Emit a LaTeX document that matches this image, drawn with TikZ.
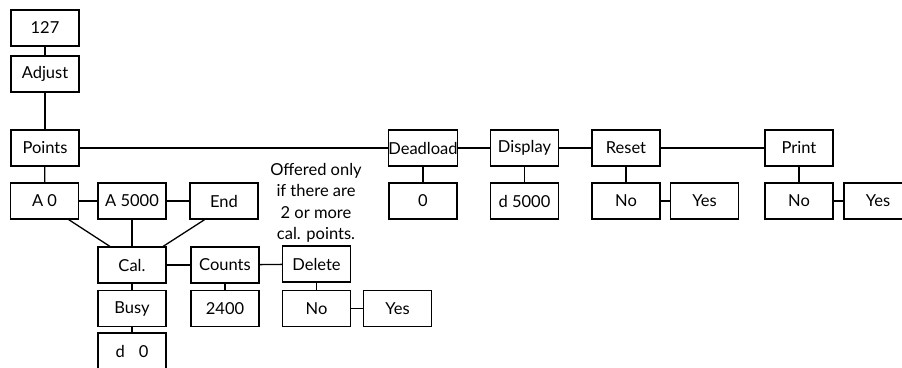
\documentclass[tikz,border=0pt]{standalone}
\usepackage{fontspec}
\setmainfont{Lato}
\usetikzlibrary{calc}
\begin{document}
\begin{tikzpicture}[x=1pt,y=-1pt,
  box/.style={draw,line width=1.3pt,minimum width=68pt,minimum height=36pt,inner sep=0pt,
    font=\fontsize{16.5}{19}\selectfont},
  link/.style={line width=1.3pt}]
\useasboundingbox (0,0) rectangle (902,367);
% left column
\node[box] (n127)   at (45,28)  {127};
\node[box] (adjust) at (45,74)  {Adjust};
\node[box] (points) at (45,148) {Points};
% top menu row
\node[box] (deadload) at (423,148)   {Deadload};
\node[box] (display)  at (524.5,148) {Display};
\node[box] (reset)    at (626,148)   {Reset};
\node[box] (print)    at (799,148)   {Print};
% values under the top menu
\node[box] (dl0)    at (423,201)   {0};
\node[box] (d5000)  at (524.5,201) {d 5000};
\node[box] (resno)  at (626,201)   {No};
\node[box] (resyes) at (704.5,201) {Yes};
\node[box] (prno)   at (799,201)   {No};
\node[box] (pryes)  at (878,201)   {Yes};
% calibration points
\node[box] (a0)    at (44.5,201) {A 0};
\node[box] (a5000) at (132,201)  {A 5000};
\node[box] (endp)  at (224,201)  {End};
\node[box] (cal)    at (132,265)   {Cal.};
\node[box] (counts) at (225,265)   {Counts};
\node[box] (delete) at (316.5,264) {Delete};
\node[box] (busy)   at (132,308.5)   {Busy};
\node[box] (c2400)  at (225,308.5)   {2400};
\node[box] (delno)  at (316.5,308.5) {No};
\node[box] (delyes) at (397.5,308.5) {Yes};
\node[box] (d0)     at (132,351)     {d\hspace{14pt}0};
\node[align=center,inner sep=0pt,font=\fontsize{16.5}{21.5}\selectfont] (note) at (316,203)
  {Offered only\\if there are\\2 or more\\cal. points.};
% connectors
\draw[link] (n127) -- (adjust);
\draw[link] (adjust) -- (points);
\draw[link] (points) -- (deadload);
\draw[link] (deadload) -- (display);
\draw[link] (display) -- (reset);
\draw[link] (reset) -- (print);
\draw[link] (deadload) -- (dl0);
\draw[link] (display) -- (d5000);
\draw[link] (reset) -- (resno);
\draw[link] (resno) -- (resyes);
\draw[link] (print) -- (prno);
\draw[link] (prno) -- (pryes);
\draw[link] (points) -- (a0);
\draw[link] (a0) -- (a5000);
\draw[link] (a5000) -- (endp);
\draw[link] ($(a0.south west)!0.85!(a0.south east)$) -- ($(cal.north west)!0.18!(cal.north east)$);
\draw[link] (a5000) -- (cal);
\draw[link] ($(endp.south west)!0.22!(endp.south east)$) -- ($(cal.north west)!0.95!(cal.north east)$);
\draw[link] (cal) -- (counts);
\draw[link] (counts) -- (delete);
\draw[link] (cal) -- (busy);
\draw[link] (busy) -- (d0);
\draw[link] (counts) -- (c2400);
\draw[link] (delete.south) -- (delete.south |- delno.north);
\draw[link] (delno) -- (delyes);
\end{tikzpicture}
\end{document}
